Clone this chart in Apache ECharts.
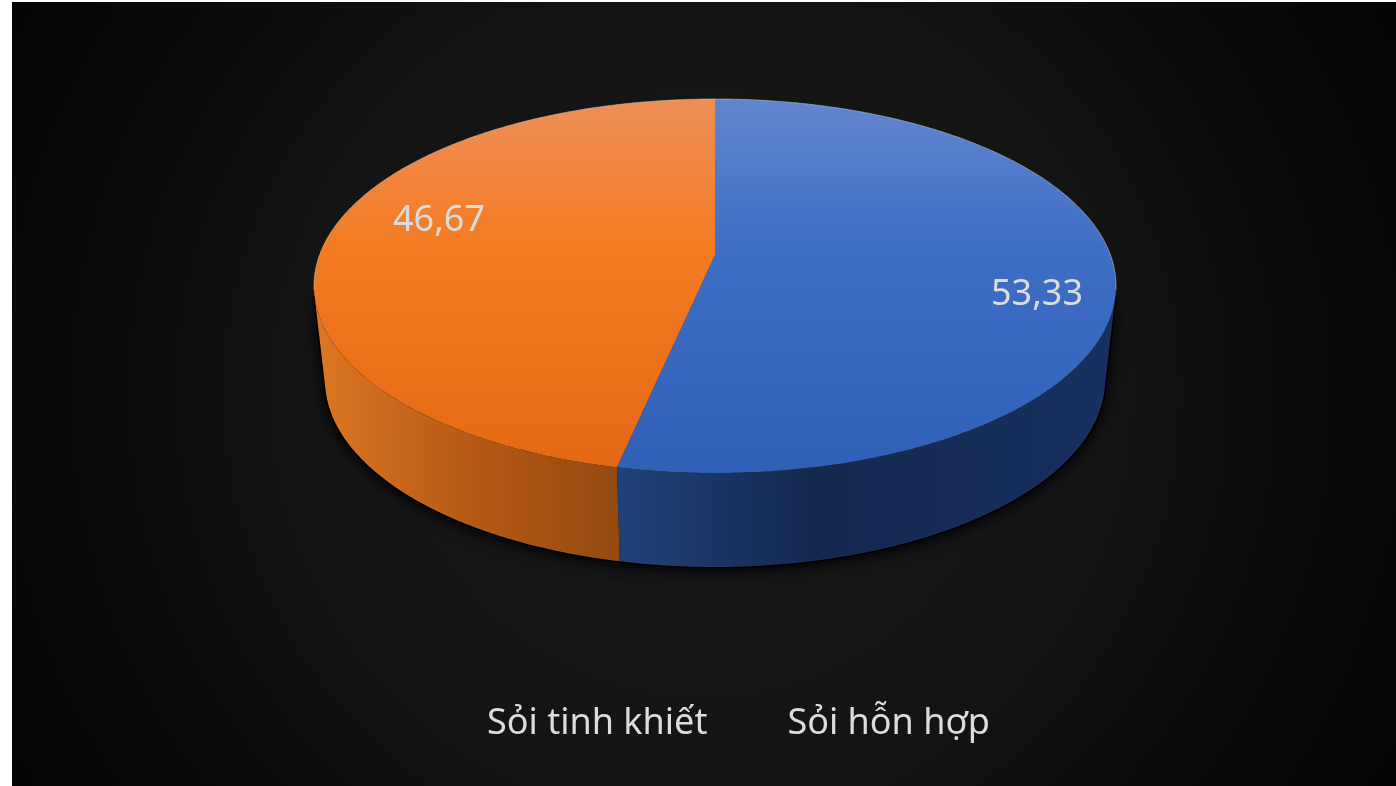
<!DOCTYPE html>
<html>
<head>
<meta charset="utf-8">
<title>Sỏi</title>
<script src="https://cdn.jsdelivr.net/npm/echarts@6/dist/echarts.min.js"></script>
<style>
    html, body { margin: 0; padding: 0; background: #fff; }
    #chart { width: 1396px; height: 786px; }
</style>
</head>
<body>
<div id="chart"></div>
<script>
// data, clockwise from 12 o'clock
const categories = ['Sỏi hỗn hợp', 'Sỏi tinh khiết'];
const values = [53.33, 46.67];
const valueLabels = ['53,33', '46,67'];
const legendOrder = ['Sỏi tinh khiết', 'Sỏi hỗn hợp'];

// disc geometry
const TOP = { cx: 715, cy: 286, rx: 401, ry: 187 };
const BOTTOM = { cx: 715, cy: 380, rx: 390, ry: 187 };
const TILT = -0.166; // perspective: the pie centre sits above the ellipse centre
const WALL_FROM = Math.acos(-0.219); // where the side wall leaves the top face

const FONT = '"Noto Sans", sans-serif';
const TEXT_COLOR = '#dcdcdc';

const vgrad = (y, y2, stops) => ({ type: 'linear', x: 0, y, x2: 0, y2, global: true, colorStops: stops });
const hgrad = (x, x2, stops) => ({ type: 'linear', x, y: 0, x2, y2: 0, global: true, colorStops: stops });

const styles = [
    {
        top: vgrad(99, 473, [
            { offset: 0, color: '#6286ce' }, { offset: 0.4, color: '#3f6ec6' }, { offset: 1, color: '#2f60b6' }
        ]),
        wall: hgrad(616, 1110, [
            { offset: 0, color: '#1f4279' }, { offset: 0.4, color: '#15294f' }, { offset: 1, color: '#17305f' }
        ]),
        labelAt: [1037, 295]
    },
    {
        top: vgrad(99, 473, [
            { offset: 0, color: '#ee8f58' }, { offset: 0.4, color: '#f47b22' }, { offset: 1, color: '#e36814' }
        ]),
        wall: hgrad(320, 618, [
            { offset: 0, color: '#dc7622' }, { offset: 0.5, color: '#b65a15' }, { offset: 1, color: '#954a10' }
        ]),
        labelAt: [439, 221]
    }
];

const total = values.reduce((a, b) => a + b, 0);

// point of a disc face for a clockwise angle from the top
function project(face, t) {
    const x = Math.sin(t), y = -Math.cos(t);
    const k = 1 + TILT * y;
    return [
        face.cx + face.rx * x * Math.sqrt(1 - TILT * TILT) / k,
        face.cy + face.ry * (y + TILT) / k
    ];
}

function arc(face, a0, a1) {
    const pts = [];
    const n = Math.ceil(Math.abs(a1 - a0) / 0.01);
    for (let i = 0; i <= n; i++) pts.push(project(face, a0 + (a1 - a0) * i / n));
    return pts;
}

function renderSlice(index, params, api) {
    const before = values.slice(0, index).reduce((a, b) => a + b, 0);
    const a0 = before / total * Math.PI * 2;
    const a1 = a0 + api.value(0) / total * Math.PI * 2;
    // only the front of the wall shows
    const w0 = Math.max(a0, WALL_FROM);
    const w1 = Math.min(a1, Math.PI * 2 - WALL_FROM);
    const wallPts = arc(TOP, w0, w1).concat(arc(BOTTOM, w1, w0));
    const apex = [TOP.cx, TOP.cy + TOP.ry * TILT];
    const topPts = [apex].concat(arc(TOP, a0, a1));
    const st = styles[index];
    // thin pale rim along the back of the disc
    const rimStart = Math.max(a0, index === 0 ? a0 : Math.PI * 1.44);
    const rimEnd = Math.min(a1, index === 0 ? Math.PI * 0.56 : a1);
    return {
        type: 'group',
        children: [
            {
                type: 'polygon', z2: 0, shape: { points: wallPts },
                style: { fill: '#000', stroke: '#000', lineWidth: 3, shadowBlur: 14, shadowColor: '#000', shadowOffsetY: 2 }
            },
            { type: 'polygon', z2: 1, shape: { points: wallPts }, style: { fill: st.wall } },
            { type: 'polygon', z2: 2, shape: { points: topPts }, style: { fill: st.top } },
            {
                type: 'polyline', z2: 3, shape: { points: arc(TOP, rimStart, rimEnd) },
                style: { fill: null, stroke: 'rgba(190,200,195,0.55)', lineWidth: 1 }
            },
            {
                type: 'text', z2: 4, x: st.labelAt[0], y: st.labelAt[1],
                style: {
                    text: valueLabels[index], fill: TEXT_COLOR, font: '36px ' + FONT,
                    align: 'center', verticalAlign: 'middle'
                }
            }
        ]
    };
}

const chart = echarts.init(document.getElementById('chart'), null, { renderer: 'canvas' });

chart.setOption({
    animation: false,
    backgroundColor: '#fff',
    graphic: [{
        type: 'rect', z: -10, silent: true,
        shape: { x: 12, y: 2, width: 1384, height: 784 },
        style: {
            fill: {
                type: 'radial', x: 702, y: 394, r: 800, global: true,
                colorStops: [
                    { offset: 0, color: '#171717' }, { offset: 0.5, color: '#141414' },
                    { offset: 0.75, color: '#0b0b0b' }, { offset: 1, color: '#050505' }
                ]
            }
        }
    }],
    legend: {
        data: legendOrder,
        left: 482,
        top: 706,
        padding: 0,
        itemWidth: 0,
        itemHeight: 0,
        itemGap: 75,
        textStyle: { color: TEXT_COLOR, fontSize: 36, fontFamily: FONT }
    },
    series: categories.map((name, i) => ({
        type: 'custom',
        name,
        coordinateSystem: 'none',
        data: [[values[i]]],
        renderItem: (params, api) => renderSlice(i, params, api)
    }))
});

window.addEventListener('resize', () => chart.resize());
</script>
</body>
</html>
